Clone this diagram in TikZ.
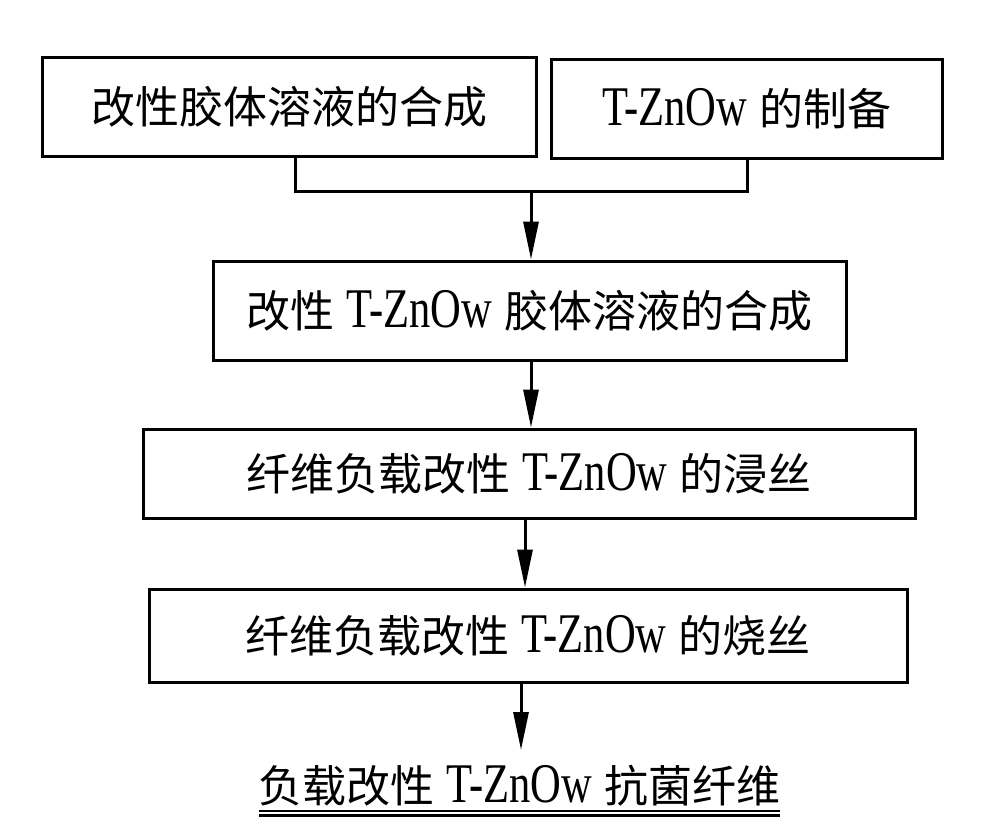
\documentclass[tikz,border=0pt]{standalone}
\usepackage{fontspec}
\setmainfont{Liberation Serif}
\newfontfamily\latcond[FakeStretch=0.76]{Liberation Serif}
\newfontfamily\cjk{Noto Sans CJK SC}
\usetikzlibrary{arrows.meta}
\newcommand\zh[1]{{\cjk #1}}
\newcommand\tzn{\hspace{12pt}{\latcond\fontsize{56}{60}\selectfont T-ZnOw}\hspace{12pt}}
\begin{document}
\begin{tikzpicture}[x=1pt,y=-1pt,
  box/.style={draw,line width=3pt,inner sep=0pt,anchor=center,font=\fontsize{44}{50}\selectfont},
  link/.style={line width=3pt},
  arr/.style={line width=3pt,-{Triangle[length=38pt,width=15pt]}},
  uline/.style={line width=2.2pt}]
\useasboundingbox (0,0) rectangle (982,836);
\node[box,minimum width=494pt,minimum height=99pt] (b1) at (289,106.5) {\zh{改性胶体溶液的合成}};
\node[box,minimum width=391pt,minimum height=99pt] (b2) at (746.5,108.5) {\hspace{-12pt}\tzn\zh{的制备}};
\node[box,minimum width=633pt,minimum height=99pt] (b3) at (529.5,310.5) {\zh{改性}\tzn\zh{胶体溶液的合成}};
\node[box,minimum width=772pt,minimum height=89pt] (b4) at (529,473.5) {\zh{纤维负载改性}\tzn\zh{的浸丝}};
\node[box,minimum width=758pt,minimum height=93pt] (b5) at (528,635.5) {\zh{纤维负载改性}\tzn\zh{的烧丝}};
\node[inner sep=0pt,font=\fontsize{44}{50}\selectfont] (fin) at (519.5,786) {\zh{负载改性}\tzn\zh{抗菌纤维}};
\coordinate (j1) at (295,191);
\coordinate (j2) at (747,191);
\coordinate (j3) at (531,191);
\coordinate (j4) at (531,0);
\coordinate (j5) at (525,0);
\coordinate (j6) at (521,0);
\coordinate (e) at (521,750);
\coordinate (u1) at (0,811);
\coordinate (u2) at (0,815.5);
\draw[link] (b1.south -| j1) -- (j1) -- (j2) -- (b2.south -| j2);
\draw[arr] (j3) -- (b3.north -| j3);
\draw[arr] (b3.south -| j4) -- (b4.north -| j4);
\draw[arr] (b4.south -| j5) -- (b5.north -| j5);
\draw[arr] (b5.south -| j6) -- (e);
\draw[uline] (fin.west |- u1) -- (fin.east |- u1);
\draw[uline] (fin.west |- u2) -- (fin.east |- u2);
\end{tikzpicture}
\end{document}
